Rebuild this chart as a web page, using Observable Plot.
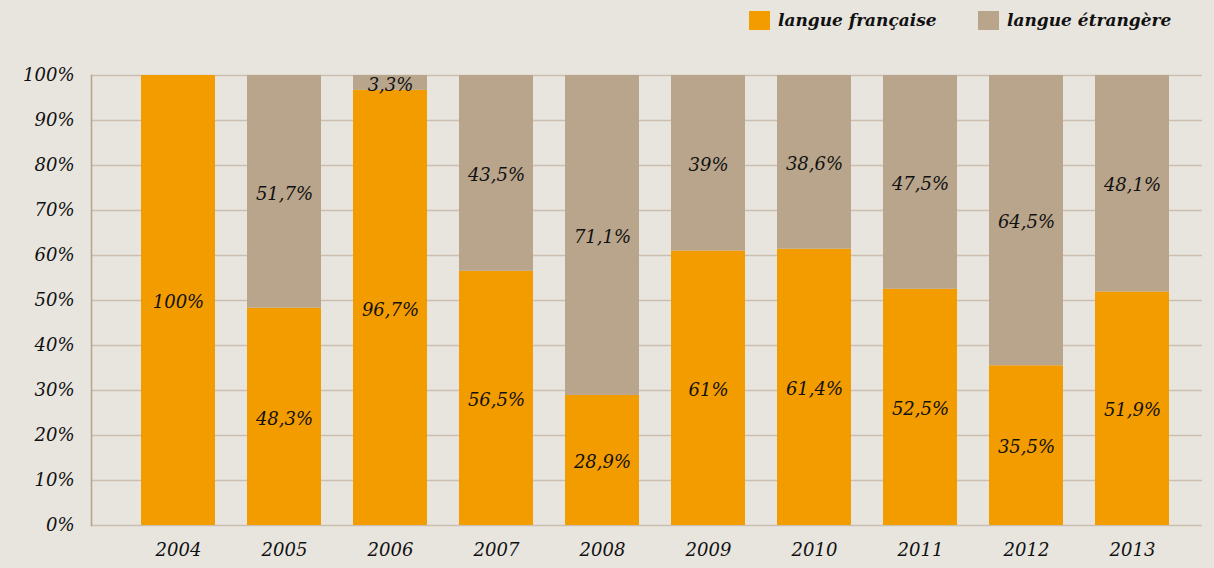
<!DOCTYPE html>
<html>
<head>
<meta charset="utf-8">
<script src="https://cdn.jsdelivr.net/npm/d3@7"></script>
<script src="https://cdn.jsdelivr.net/npm/@observablehq/plot@0.6"></script>
<style>
  html, body { margin: 0; padding: 0; background: #e8e5df; }
  #legend { position: relative; height: 45px; width: 1214px; font-family: "DejaVu Serif", serif; font-style: italic; font-weight: bold; font-size: 17px; color: #111; }
  .item { position: absolute; top: 10px; display: flex; align-items: center; }
  .sw { width: 21px; height: 19px; margin-right: 8px; }
  svg { display: block; }
</style>
</head>
<body>
<div id="legend"></div>
<div id="chart"></div>
<script>
const years = ["2004","2005","2006","2007","2008","2009","2010","2011","2012","2013"];
const francaise = [100, 48.3, 96.7, 56.5, 28.9, 61, 61.4, 52.5, 35.5, 51.9];
const etrangere = [0, 51.7, 3.3, 43.5, 71.1, 39, 38.6, 47.5, 64.5, 48.1];
const series = ["langue française", "langue étrangère"];
const colors = ["#f39c00", "#b8a58b"];
const yTicks = [0,10,20,30,40,50,60,70,80,90,100];

const data = years.flatMap((year, i) => [
  {year, lang: series[0], value: francaise[i]},
  {year, lang: series[1], value: etrangere[i]}
]);
const fmt = v => String(v).replace(".", ",") + "%";

// legend
const legend = document.getElementById("legend");
const lx = [749, 978];
series.forEach((s, i) => {
  const it = document.createElement("div");
  it.className = "item";
  it.style.left = lx[i] + "px";
  it.innerHTML = `<div class="sw" style="background:${colors[i]}"></div><span>${s}</span>`;
  legend.appendChild(it);
});

const chart = Plot.plot({
  width: 1214,
  height: 523,
  marginTop: 30,
  marginBottom: 43,
  marginLeft: 91,
  marginRight: 12,
  style: {background: "transparent", fontFamily: "'DejaVu Serif', serif", fontStyle: "italic", fontSize: "18px", color: "#111"},
  x: {domain: years, range: [107, 1203], padding: 0.3, label: null},
  y: {domain: [0, 100], label: null},
  color: {domain: series, range: colors},
  marks: [
    Plot.ruleY(yTicks, {stroke: "#cbc0b0", strokeWidth: 1.6}),
    Plot.frame({anchor: "left", stroke: "#b8a58b", strokeWidth: 1.6}),
    Plot.axisY(yTicks, {tickSize: 0, tickPadding: 17, tickFormat: d => d + "%", fontSize: 18, fill: "#111"}),
    Plot.axisX({tickSize: 0, tickPadding: 18, fontSize: 18, fill: "#111"}),
    Plot.barY(data, Plot.stackY({x: "year", y: "value", fill: "lang"})),
    Plot.text(data, Plot.stackY({x: "year", y: "value", text: d => d.value > 0 ? fmt(d.value) : "", fontSize: 18, fill: "#111", dy: 2}))
  ]
});
document.getElementById("chart").appendChild(chart);
</script>
</body>
</html>
